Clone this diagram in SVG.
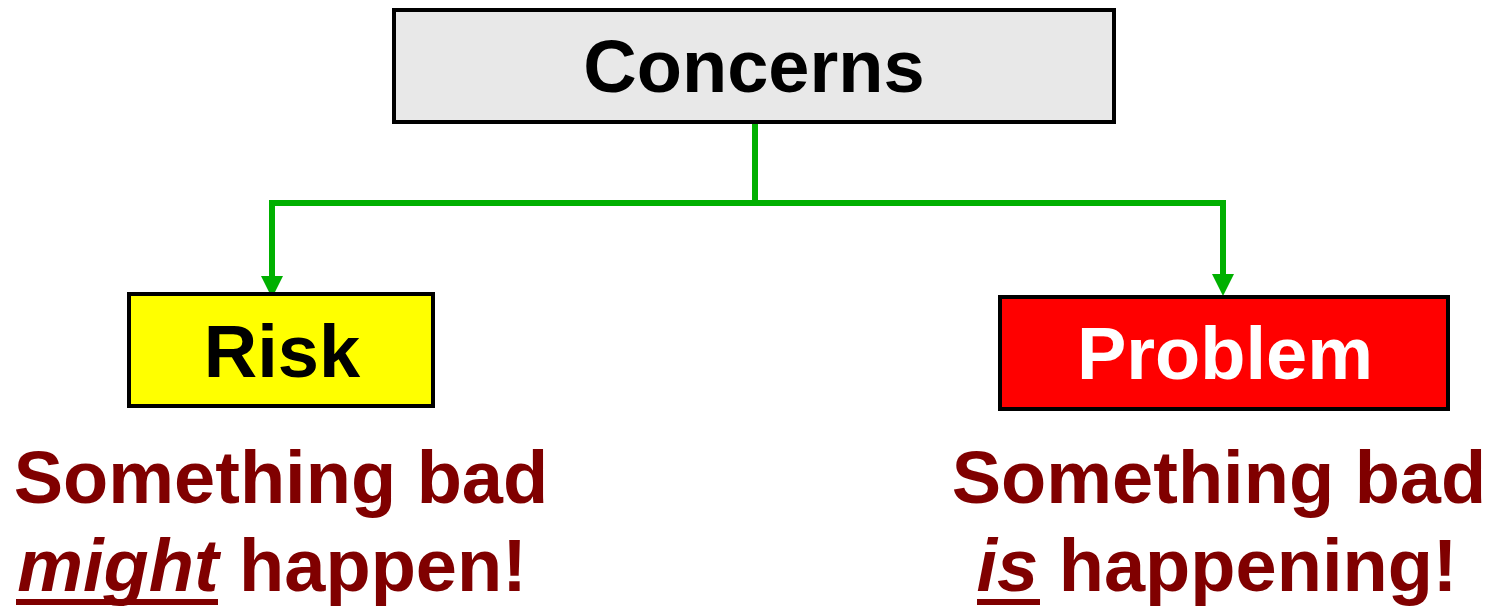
<svg xmlns="http://www.w3.org/2000/svg" width="1491" height="607" viewBox="0 0 1491 607">
<style>
.box{stroke:#000;stroke-width:4}
.lbl{font-family:"Liberation Sans",Arial,sans-serif;font-weight:bold;font-size:74px;text-anchor:middle}
.note{font-family:"Liberation Sans",Arial,sans-serif;font-weight:bold;font-size:74px;text-anchor:middle;fill:#800000}
.ul{font-style:italic}
.uline{fill:#800000}
.conn{fill:none;stroke:#00b000;stroke-width:6}
</style>
<defs>
<marker id="arr" markerUnits="userSpaceOnUse" markerWidth="22" markerHeight="22" refX="12" refY="11" orient="auto" viewBox="0 0 22 22">
<path d="M0,0 L22,11 L0,22 Z" fill="#00b000"/>
</marker>
</defs>
<rect width="1491" height="607" fill="#fff"/>
<g id="connectors">
<path class="conn" d="M755,122 V203"/>
<path class="conn" d="M755,203 H272 V288" marker-end="url(#arr)"/>
<path class="conn" d="M755,203 H1223 V286" marker-end="url(#arr)"/>
</g>
<g id="concerns">
<rect class="box" x="394" y="10" width="720" height="112" fill="#e8e8e8"/>
<text class="lbl" x="754" y="92" fill="#000">Concerns</text>
</g>
<g id="risk">
<rect class="box" x="129" y="294" width="304" height="112" fill="#ffff00"/>
<text class="lbl" x="282" y="377" fill="#000">Risk</text>
</g>
<g id="problem">
<rect class="box" x="1000" y="297" width="448" height="112" fill="#ff0000"/>
<text class="lbl" x="1225" y="379" fill="#fff">Problem</text>
</g>
<g id="risk-note">
<text class="note" x="281" y="503">Something bad</text>
<text class="note" x="272" y="591"><tspan class="ul">might</tspan> happen!</text>
<rect class="uline" x="16" y="599" width="202" height="6"/>
</g>
<g id="problem-note">
<text class="note" x="1219" y="503">Something bad</text>
<text class="note" x="1217" y="591"><tspan class="ul">is</tspan> happening!</text>
<rect class="uline" x="977" y="599" width="63" height="6"/>
</g>
</svg>
